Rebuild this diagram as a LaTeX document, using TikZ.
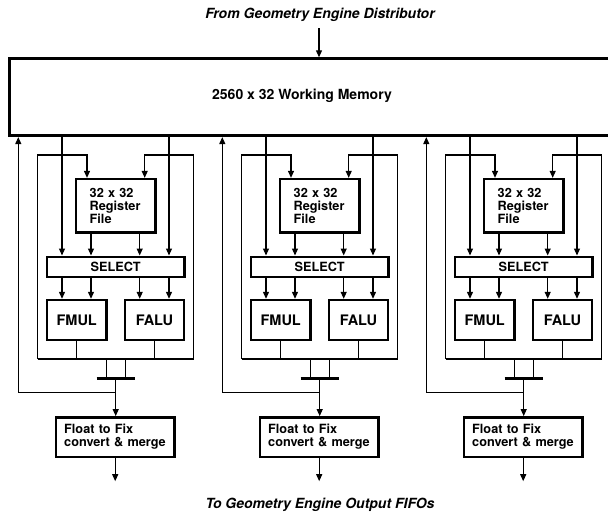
\documentclass[tikz,border=0pt]{standalone}
\usepackage{fontspec}
\setmainfont{TeX Gyre Heros}
\usepackage{tikz}
\usetikzlibrary{arrows.meta, calc, positioning}
\tikzstyle{unit} = [rectangle, draw, line width=2.4pt, inner sep=0pt, font=\bfseries\fontsize{12.7}{13}\selectfont]
\tikzstyle{alu} = [unit, minimum width=59.5pt, minimum height=40pt, font=\bfseries\fontsize{14.5}{16}\selectfont]
\tikzstyle{note} = [font=\bfseries\itshape\fontsize{14}{16}\selectfont]
\tikzstyle{wire} = [line width=1.2pt]
\tikzstyle{arrow} = [wire, -{Triangle[length=7pt,width=6pt]}]

\begin{document}
\begin{tikzpicture}[x=1pt, y=-1pt]
    \useasboundingbox (0,0) rectangle (608,515);

    \node[note] (src) at (320,15) {From Geometry Engine Distributor};
    \node[draw, line width=2.8pt, minimum width=604pt, minimum height=77pt, anchor=north west, inner sep=0pt] (mem) at (8.3,57.3) {};
    \node[font=\bfseries\fontsize{14}{16}\selectfont] (memtext) at (302,96) {2560 x 32 Working Memory};
    \node[note] (dst) at (320,505) {To Geometry Engine Output FIFOs};
    \coordinate (in) at (319,28);
    \draw[arrow] (in) -- (in |- mem.north);

    \foreach \i/\dx in {1/0, 2/204, 3/408} {
        \begin{scope}[xshift=\dx]
            \node[unit, minimum width=79.4pt, minimum height=53.3pt, text width=52pt, inner xsep=13.7pt, align=left] (reg\i) at (115.7,205.7) {32 x 32\\Register\\File};
            \node[unit, minimum width=137.3pt, minimum height=20pt] (sel\i) at (115.7,266.7) {SELECT};
            \node[alu] (fmul\i) at (76.7,320) {FMUL};
            \node[alu] (falu\i) at (154.5,320) {FALU};
            \node[unit, minimum width=118.3pt, minimum height=39.4pt, text width=102pt, inner xsep=8.2pt, align=left] (conv\i) at (115.2,437) {Float to Fix\\convert \& merge};
            % lanes and corners
            \coordinate (fb\i) at (18.3,392.3);
            \coordinate (la\i) at (62,0);
            \coordinate (lb\i) at (91,0);
            \coordinate (lc\i) at (139.7,0);
            \coordinate (ld\i) at (169,0);
            \coordinate (ra\i) at (87,155);
            \coordinate (rb\i) at (144.7,155);
            \coordinate (lpl\i) at (37.5,155);
            \coordinate (lpr\i) at (193.5,359);
            \coordinate (mg\i) at (106.3,378.3);
            \coordinate (mh\i) at (125.3,378.3);
            \coordinate (bar\i) at (115.7,378.3);
        \end{scope}

        \draw[arrow] (la\i |- mem.south) -- (la\i |- sel\i.north);
        \draw[arrow] (ld\i |- mem.south) -- (ld\i |- sel\i.north);
        \draw[arrow] (lpl\i |- lpr\i) -- (lpl\i) -- (ra\i) -- (ra\i |- reg\i.north);
        \draw[arrow] (lpr\i) -- (lpr\i |- rb\i) -- (rb\i) -- (rb\i |- reg\i.north);
        \draw[wire] (lpl\i |- lpr\i) -- (lpr\i);
        \draw[arrow] (lb\i |- reg\i.south) -- (lb\i |- sel\i.north);
        \draw[arrow] (lc\i |- reg\i.south) -- (lc\i |- sel\i.north);
        \draw[arrow] (la\i |- sel\i.south) -- (la\i |- fmul\i.north);
        \draw[arrow] (lb\i |- sel\i.south) -- (lb\i |- fmul\i.north);
        \draw[arrow] (lc\i |- sel\i.south) -- (lc\i |- falu\i.north);
        \draw[arrow] (ld\i |- sel\i.south) -- (ld\i |- falu\i.north);
        \draw[wire] (fmul\i.south) -- (fmul\i.south |- lpr\i);
        \draw[wire] (falu\i.south) -- (falu\i.south |- lpr\i);
        \draw[wire] (mg\i |- lpr\i) -- (mg\i);
        \draw[wire] (mh\i |- lpr\i) -- (mh\i);
        \draw[line width=3pt] ($(bar\i)+(-19.2,0)$) -- ($(bar\i)+(19.2,0)$);
        \draw[arrow] (bar\i) -- (bar\i |- conv\i.north);
        \draw[arrow] (bar\i |- fb\i) -- (fb\i) -- (fb\i |- mem.south);
        \draw[arrow] (conv\i.south) -- ++(0,23.3);
    }
\end{tikzpicture}
\end{document}
